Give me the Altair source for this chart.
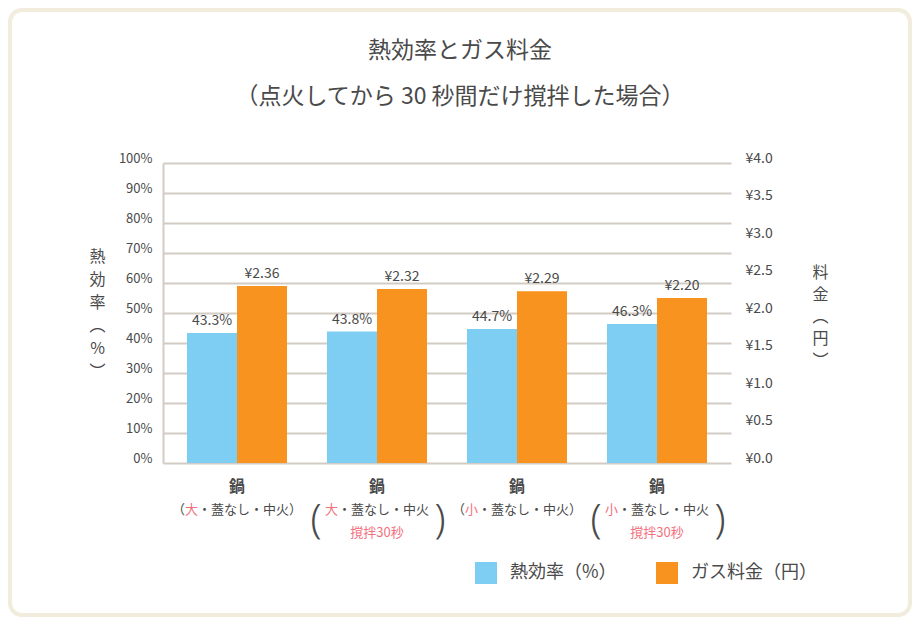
import altair as alt
import pandas as pd

# ---- data ----
groups = [
    "鍋（大・蓋なし・中火）",
    "鍋（大・蓋なし・中火）撹拌30秒",
    "鍋（小・蓋なし・中火）",
    "鍋（小・蓋なし・中火）撹拌30秒",
]
size_chars = ["大", "大", "小", "小"]
stirred = [False, True, False, True]
efficiency = [43.3, 43.8, 44.7, 46.3]
gas_cost = [2.36, 2.32, 2.29, 2.20]
series = ["熱効率（%）", "ガス料金（円）"]
colors = ["#7ECEF4", "#F7931E"]
pct_ticks = [0, 10, 20, 30, 40, 50, 60, 70, 80, 90, 100]
yen_ticks = [0.0, 0.5, 1.0, 1.5, 2.0, 2.5, 3.0, 3.5, 4.0]
title_lines = ["熱効率とガス料金", "（点火してから 30 秒間だけ撹拌した場合）"]
left_title = ["熱", "効", "率", "︵", "%", "︶"]
right_title = ["料", "金", "︵", "円", "︶"]
pot_label = "鍋"
stir_label = "撹拌30秒"

TXT = "#4A4A4A"
PINK = "#F2707E"
GRID = "#D3CCC4"
FONT = "Noto Sans CJK JP"

eff_df = pd.DataFrame({
    "group": groups,
    "series": series[0],
    "value": efficiency,
    "label": [f"{v:.1f}%" for v in efficiency],
})
cost_df = pd.DataFrame({
    "group": groups,
    "series": series[1],
    "value": gas_cost,
    "label": [f"¥{v:.2f}" for v in gas_cost],
})
lab_df = pd.DataFrame({
    "group": groups,
    "size": size_chars,
    "stir": stirred,
    "rest": ["・蓋なし・中火" if s else "・蓋なし・中火）" for s in stirred],
})
one = pd.DataFrame({"k": [0]})

x_enc = alt.X("group:N", sort=groups,
              scale=alt.Scale(paddingInner=0.2857, paddingOuter=0.1714),
              axis=None)
xoff_enc = alt.XOffset("series:N", sort=series, scale=alt.Scale(domain=series))
color_enc = alt.Color(
    "series:N",
    scale=alt.Scale(domain=series, range=colors),
    legend=alt.Legend(
        title=None, orient="none", legendX=312, legendY=399,
        direction="horizontal", symbolType="square", symbolSize=484,
        symbolStrokeWidth=0, labelFontSize=18, labelColor=TXT,
        labelOffset=13, columnPadding=39, labelFont=FONT,
    ),
)

y_left = alt.Y(
    "value:Q",
    scale=alt.Scale(domain=[0, 100]),
    axis=alt.Axis(
        values=pct_ticks, labelExpr="datum.value + '%'",
        grid=True, gridColor=GRID, gridWidth=2,
        domain=True, domainColor=GRID, domainWidth=2,
        ticks=False, labelPadding=11, labelFontSize=13, labelColor=TXT,
        labelOffset=-5,
        title=left_title, titleAngle=0, titleX=-66, titleY=93,
        titleBaseline="middle", titleAlign="center", titleLineHeight=23,
        titleFontSize=16, titleFontWeight="normal", titleColor=TXT,
    ),
)
y_right = alt.Y(
    "value:Q",
    scale=alt.Scale(domain=[0, 4]),
    axis=alt.Axis(
        orient="right", values=yen_ticks,
        labelExpr="'¥' + format(datum.value, '.1f')",
        grid=False, domain=False, ticks=False, labelPadding=14,
        labelFontSize=14, labelColor=TXT, labelOffset=-5,
        title=right_title, titleAngle=0, titleX=89, titleY=109,
        titleBaseline="middle", titleAlign="center", titleLineHeight=22,
        titleFontSize=16, titleFontWeight="normal", titleColor=TXT,
    ),
)

# ---- left (efficiency) ----
eff_bars = alt.Chart(eff_df).mark_bar().encode(
    x=x_enc, xOffset=xoff_enc, y=y_left, color=color_enc)
eff_text = alt.Chart(eff_df).mark_text(
    baseline="bottom", dy=-5, fontSize=14, color=TXT).encode(
    x=x_enc, xOffset=xoff_enc, y=y_left, text="label:N")

# ---- right (cost) ----
cost_bars = alt.Chart(cost_df).mark_bar().encode(
    x=x_enc, xOffset=xoff_enc, y=y_right, color=color_enc)
cost_text = alt.Chart(cost_df).mark_text(
    baseline="bottom", dy=-5, fontSize=14, color=TXT).encode(
    x=x_enc, xOffset=xoff_enc, y=y_right, text="label:N")

# ---- category labels ----
base_lab = alt.Chart(lab_df)
pot = base_lab.mark_text(fontSize=16, fontWeight="bold", color=TXT,
                         baseline="middle").encode(
    x=x_enc, y=alt.value(324), text=alt.value(pot_label))
open_paren = base_lab.transform_filter("!datum.stir").mark_text(
    fontSize=13, color=TXT, align="left", dx=-65, baseline="middle").encode(
    x=x_enc, y=alt.value(347), text=alt.value("（"))
size_txt = base_lab.mark_text(
    fontSize=13, color=PINK, align="left", dx=-52, baseline="middle").encode(
    x=x_enc, y=alt.value(347), text="size:N")
rest_txt = base_lab.mark_text(
    fontSize=13, color=TXT, align="left", dx=-39, baseline="middle").encode(
    x=x_enc, y=alt.value(347), text="rest:N")
stir_txt = base_lab.transform_filter("datum.stir").mark_text(
    fontSize=13, color=PINK, baseline="middle").encode(
    x=x_enc, y=alt.value(370), text=alt.value(stir_label))
big_l = base_lab.transform_filter("datum.stir").mark_text(
    fontSize=40, color=TXT, baseline="middle", dx=-61, font="Noto Sans",
    fontWeight=300).encode(
    x=x_enc, y=alt.value(358), text=alt.value("("))
big_r = base_lab.transform_filter("datum.stir").mark_text(
    fontSize=40, color=TXT, baseline="middle", dx=63, font="Noto Sans",
    fontWeight=300).encode(
    x=x_enc, y=alt.value(358), text=alt.value(")"))

# ---- titles and frame ----
t1 = alt.Chart(one).mark_text(fontSize=23, color=TXT, baseline="middle").encode(
    x=alt.value(297), y=alt.value(-112), text=alt.value(title_lines[0]))
t2 = alt.Chart(one).mark_text(fontSize=23, color=TXT, baseline="middle").encode(
    x=alt.value(297), y=alt.value(-66), text=alt.value(title_lines[1]))
frame = alt.Chart(one).mark_rect(
    fillOpacity=0, stroke="#F1ECDC", strokeWidth=4, cornerRadius=12).encode(
    x=alt.value(-153), x2=alt.value(747), y=alt.value(-153), y2=alt.value(452))

left = alt.layer(frame, eff_bars, eff_text, pot, open_paren, size_txt,
                 rest_txt, stir_txt, big_l, big_r, t1, t2)
right = alt.layer(cost_bars, cost_text)

chart = alt.layer(left, right).resolve_scale(y="independent").properties(
    width=568, height=300,
    padding={"left": 155, "top": 155, "right": 181, "bottom": 154},
    autosize=alt.AutoSizeParams(type="none"),
    background="white",
).configure(font=FONT).configure_view(strokeWidth=0)

chart.save("out.html", embed_options={"renderer": "svg", "actions": False})
